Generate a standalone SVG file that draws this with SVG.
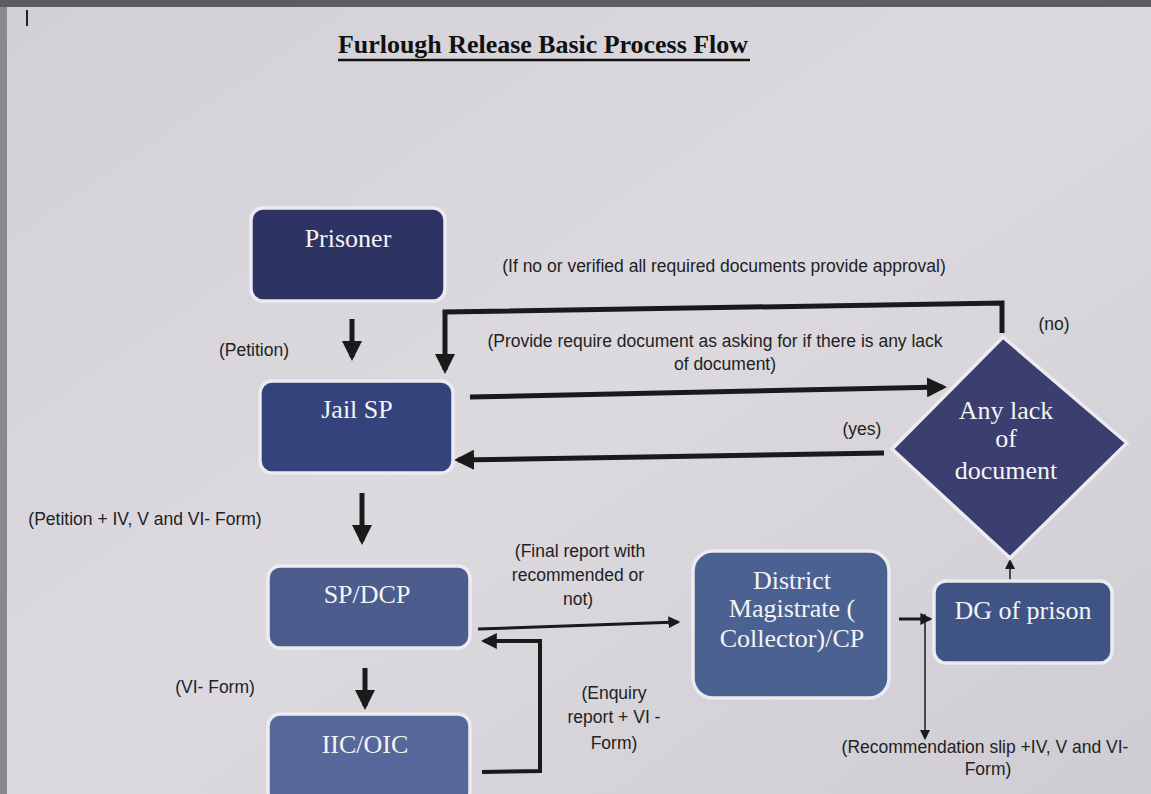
<svg xmlns="http://www.w3.org/2000/svg" width="1151" height="794" viewBox="0 0 1151 794">
<defs>
<linearGradient id="bg" x1="0" y1="0" x2="1" y2="1">
<stop offset="0" stop-color="#d2d0d6"/>
<stop offset="0.5" stop-color="#dcdadf"/>
<stop offset="1" stop-color="#cfcdd3"/>
</linearGradient>
<marker id="ah" viewBox="0 0 10 10" refX="8" refY="5" markerWidth="4" markerHeight="4" orient="auto-start-reverse" markerUnits="strokeWidth">
<path d="M0,0 L10,5 L0,10 z" fill="#1a1a1a"/>
</marker>
<marker id="ahs" viewBox="0 0 10 10" refX="8" refY="5" markerWidth="7" markerHeight="7" orient="auto-start-reverse" markerUnits="strokeWidth">
<path d="M0,0 L10,5 L0,10 z" fill="#1a1a1a"/>
</marker>
</defs>
<style>
.node rect, .node polygon { stroke: #ececf0; stroke-width: 3.5; }
.nt { font-family: "Liberation Serif", "DejaVu Serif", serif; font-size: 26px; fill: #f4f4f6; text-anchor: middle; }
.lb { font-family: "Liberation Sans", "DejaVu Sans", sans-serif; font-size: 17.5px; fill: #222; text-anchor: middle; }
.cn path, .cn line { fill: none; stroke: #1a1a1a; }
</style>
<rect x="0" y="0" width="1151" height="794" fill="url(#bg)"/>
<rect x="0" y="0" width="1151" height="7" fill="#5e5c62"/>
<rect x="0" y="7" width="7" height="787" fill="#8a888e"/>
<line x1="27" y1="10" x2="27" y2="26" stroke="#222" stroke-width="2"/>
<g id="title">
<text x="543" y="53" font-family="Liberation Serif, DejaVu Serif, serif" font-weight="bold" font-size="25" fill="#111" text-anchor="middle" textLength="410" lengthAdjust="spacingAndGlyphs">Furlough Release Basic Process Flow</text>
<line x1="338" y1="60" x2="750" y2="60" stroke="#111" stroke-width="2.5"/>
</g>
<g id="connectors" class="cn">
<line x1="352" y1="319" x2="352" y2="357" stroke-width="5" marker-end="url(#ah)"/>
<path d="M1002,333 L1002,303 L445,312 L445,370" stroke-width="5" marker-end="url(#ah)"/>
<line x1="470" y1="397" x2="943" y2="387" stroke-width="5" marker-end="url(#ah)"/>
<line x1="884" y1="453" x2="458" y2="460" stroke-width="5" marker-end="url(#ah)"/>
<line x1="362" y1="493" x2="362" y2="541" stroke-width="5" marker-end="url(#ah)"/>
<line x1="365" y1="668" x2="365" y2="706" stroke-width="5" marker-end="url(#ah)"/>
<line x1="478" y1="629" x2="678" y2="622" stroke-width="3" marker-end="url(#ah)"/>
<path d="M482,772 L540,771 L540,641 L484,641" stroke-width="4" marker-end="url(#ah)"/>
<line x1="899" y1="619" x2="930" y2="619" stroke-width="3" marker-end="url(#ah)"/>
<line x1="925" y1="614" x2="925" y2="738" stroke-width="1.5" marker-end="url(#ahs)"/>
<line x1="1010" y1="580" x2="1010" y2="561" stroke-width="1.5" marker-end="url(#ahs)"/>
</g>
<g id="labels">
<text class="lb" x="724" y="272">(If no or verified all required documents provide approval)</text>
<text class="lb" x="1054" y="330">(no)</text>
<text class="lb" x="715" y="347">(Provide require document as asking for if there is any lack</text>
<text class="lb" x="725" y="370">of document)</text>
<text class="lb" x="862" y="435">(yes)</text>
<text class="lb" x="254" y="356">(Petition)</text>
<text class="lb" x="145" y="525">(Petition + IV, V and VI- Form)</text>
<text class="lb" x="215" y="693">(VI- Form)</text>
<text class="lb" x="580" y="557">(Final report with</text>
<text class="lb" x="578" y="581">recommended or</text>
<text class="lb" x="578" y="605">not)</text>
<text class="lb" x="614" y="699">(Enquiry</text>
<text class="lb" x="614" y="723">report + VI -</text>
<text class="lb" x="614" y="749">Form)</text>
<text class="lb" x="985" y="753">(Recommendation slip +IV, V and VI-</text>
<text class="lb" x="988" y="775">Form)</text>
</g>
<g id="prisoner" class="node">
<rect x="251" y="208" width="194" height="93" rx="12" fill="#2d3363"/>
<text class="nt" x="348" y="247">Prisoner</text>
</g>
<g id="jail-sp" class="node">
<rect x="260" y="381" width="193" height="92" rx="12" fill="#35437c"/>
<text class="nt" x="357" y="418">Jail SP</text>
</g>
<g id="decision" class="node">
<polygon points="1003,337 1127,443 1010,558 892,449" fill="#3b3e6e"/>
<text class="nt" x="1006" y="419">Any lack</text>
<text class="nt" x="1006" y="447">of</text>
<text class="nt" x="1006" y="479">document</text>
</g>
<g id="sp-dcp" class="node">
<rect x="268" y="566" width="202" height="82" rx="12" fill="#4b5c8d"/>
<text class="nt" x="367" y="603">SP/DCP</text>
</g>
<g id="iic-oic" class="node">
<rect x="268" y="714" width="202" height="90" rx="12" fill="#56679a"/>
<text class="nt" x="365" y="753">IIC/OIC</text>
</g>
<g id="dm" class="node">
<rect x="693" y="551" width="196" height="147" rx="20" fill="#4a6191"/>
<text class="nt" x="792" y="589">District</text>
<text class="nt" x="792" y="617">Magistrate (</text>
<text class="nt" x="792" y="647">Collector)/CP</text>
</g>
<g id="dg" class="node">
<rect x="934" y="581" width="178" height="82" rx="12" fill="#3f5385"/>
<text class="nt" x="1023" y="619">DG of prison</text>
</g>
</svg>
